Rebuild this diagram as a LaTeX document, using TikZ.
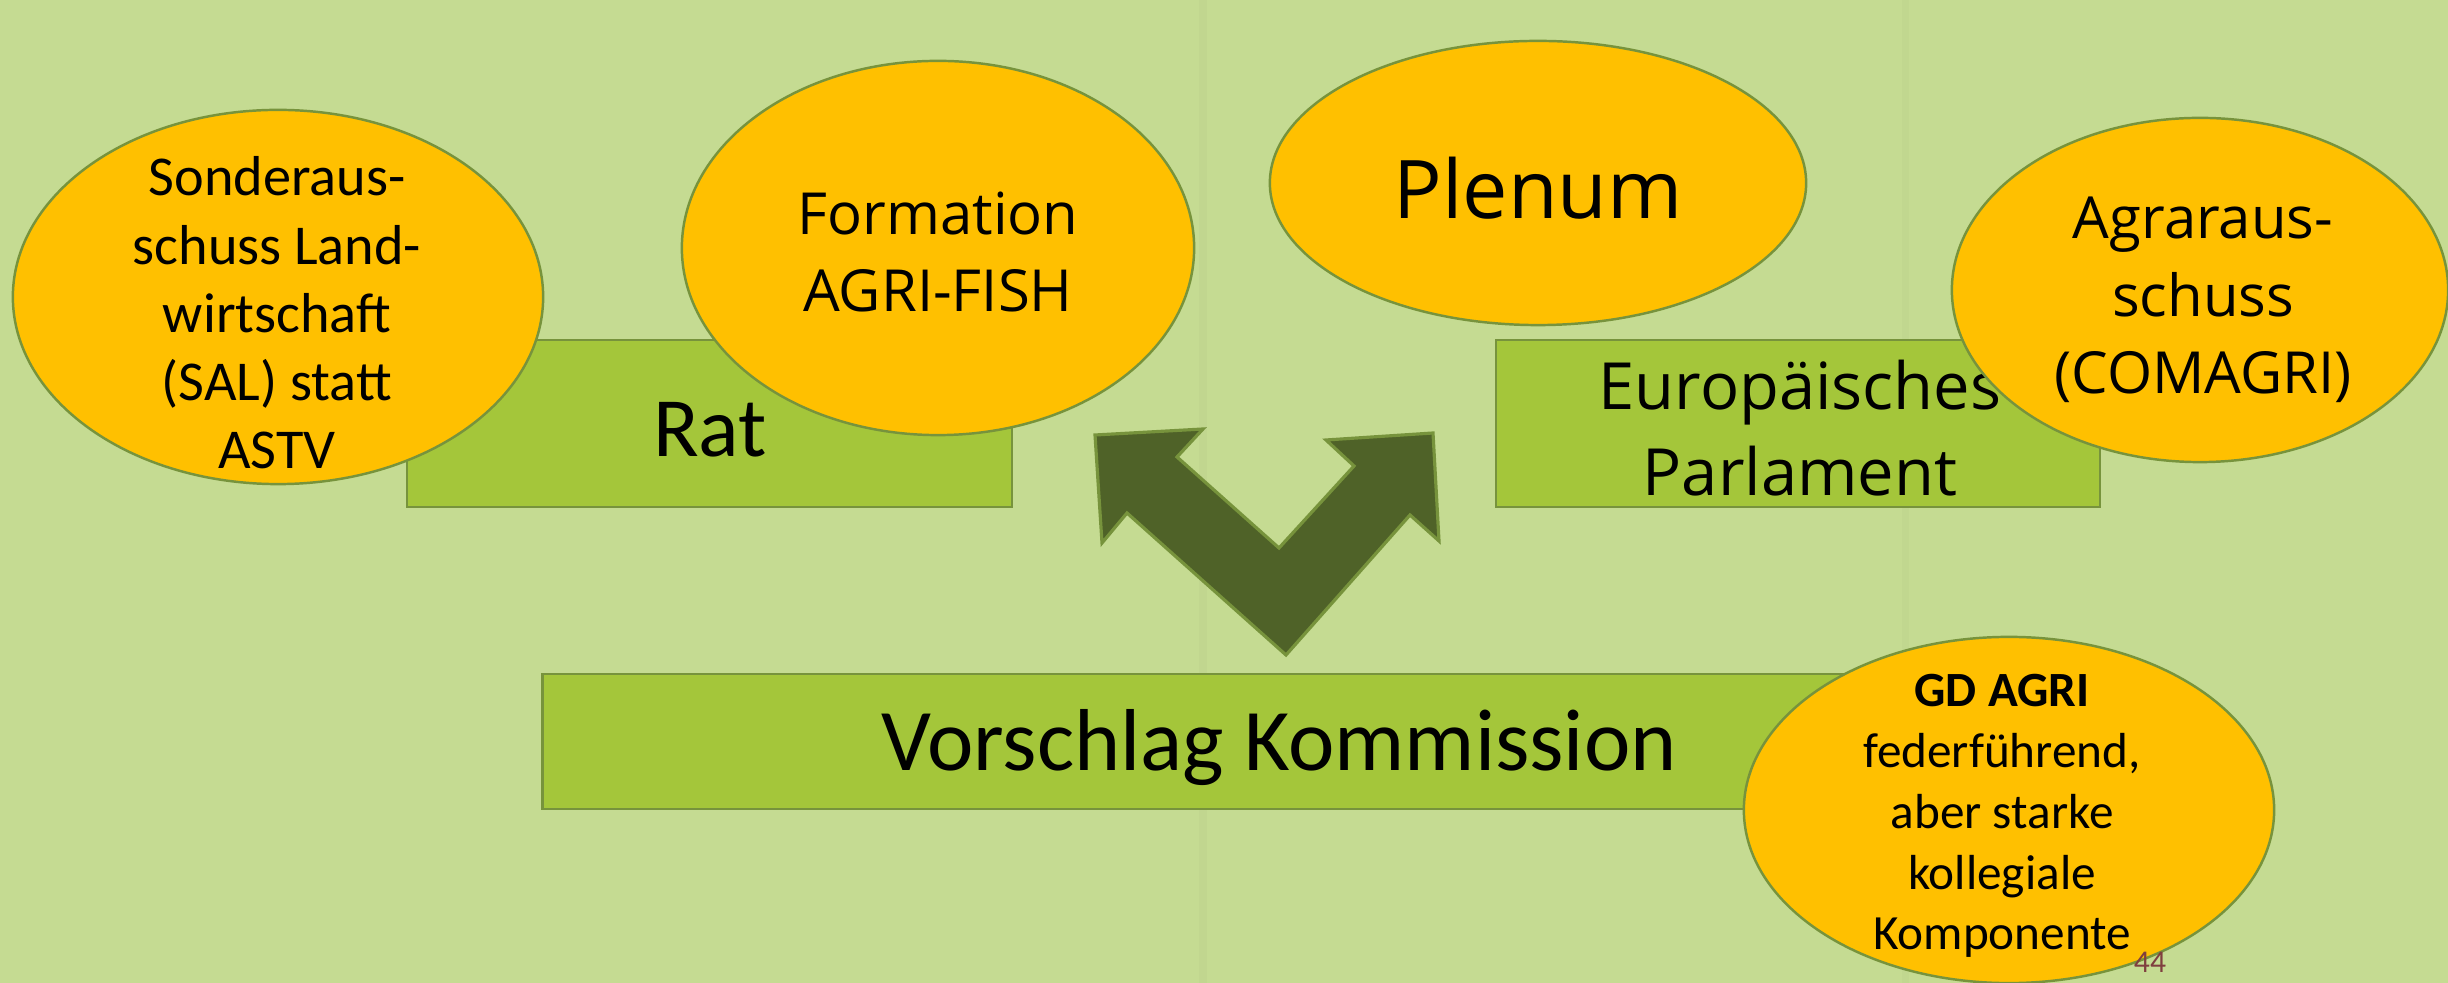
\documentclass[tikz,border=0pt]{standalone}
\usepackage{fontspec}
\setmainfont{Carlito}
\newfontfamily\segoe{Open Sans}
\usetikzlibrary{shapes.geometric}
\definecolor{bg}{HTML}{C5DB92}
\definecolor{boxfill}{HTML}{A4C63A}
\definecolor{edge}{HTML}{77933C}
\definecolor{oval}{HTML}{FFC000}
\definecolor{arrowfill}{HTML}{4F6228}
\definecolor{pagenum}{HTML}{7F3F3F}
\tikzset{
  greenbox/.style={draw=edge, fill=boxfill, line width=0.7pt, rectangle, inner sep=0pt},
  ovalbox/.style={draw=edge, fill=oval, line width=0.7pt, ellipse, inner sep=0pt},
  label/.style={align=center, inner sep=0pt, text=black},
}
\begin{document}
\begin{tikzpicture}[x=0.01cm, y=-0.01cm]
\fill[bg] (0,0) rectangle (2448,983);
\useasboundingbox (0,0) rectangle (2448,983);
% faint texture
\draw[black, opacity=0.02, line width=2pt] (1203,0) -- (1203,983);
\draw[black, opacity=0.015, line width=2pt] (1905,0) -- (1905,983);

% rectangles
\node[greenbox, minimum width=6.05cm, minimum height=1.67cm] (rat) at (709.5,423.5) {};
\node[label, font=\fontsize{24}{29}\selectfont] (rattxt) at (710,430) {Rat};
\node[greenbox, minimum width=6.04cm, minimum height=1.67cm] (ep) at (1798,423.5) {};
\node[label, font=\segoe\fontsize{18.5}{24.5}\selectfont] (eptxt) at (1800,428) {Europäisches\\Parlament};
\node[greenbox, minimum width=13.27cm, minimum height=1.35cm] (kom) at (1206.5,741.5) {};
\node[label, font=\fontsize{25}{30}\selectfont] (komtxt) at (1279,748) {Vorschlag Kommission};

% arrow
\draw[fill=arrowfill, draw=edge, line width=0.9pt, line join=miter]
  (1095,435) -- (1203,429) -- (1177,457) -- (1279,548) -- (1354,466) -- (1326,440)
  -- (1433,433) -- (1439,541) -- (1410,515) -- (1286,655) -- (1127,513) -- (1102,543) -- cycle;

% ellipses
\node[ovalbox, minimum width=5.30cm, minimum height=3.74cm] (sal) at (278,297) {};
\node[label, font=\fontsize{16}{19.4}\selectfont] (saltxt) at (277,313) {Sonderaus-\\schuss Land-\\wirtschaft\\(SAL) statt\\ASTV};
\node[ovalbox, minimum width=5.12cm, minimum height=3.74cm] (agrifish) at (938,248) {};
\node[label, font=\segoe\fontsize{16.5}{22}\selectfont] (agrifishtxt) at (938,252) {Formation\\AGRI-FISH};
\node[ovalbox, minimum width=5.36cm, minimum height=2.84cm] (plenum) at (1538,183) {};
\node[label, font=\segoe\fontsize{23}{28}\selectfont] (plenumtxt) at (1538,188) {Plenum};
\node[ovalbox, minimum width=4.96cm, minimum height=3.44cm] (comagri) at (2200,290) {};
\node[label, font=\segoe\fontsize{16.5}{22}\selectfont] (comagritxt) at (2203,300) {Agraraus-\\schuss\\(COMAGRI)};
\node[ovalbox, minimum width=5.30cm, minimum height=3.46cm] (gdagri) at (2009,810) {};
\node[label, font=\fontsize{14}{17.3}\selectfont] (gdagritxt) at (2002,816) {\textbf{GD AGRI}\\federführend,\\aber starke\\kollegiale\\Komponente};
\node[label, text=pagenum, font=\fontsize{9}{10}\selectfont] (pnum) at (2150,962) {44};
\end{tikzpicture}
\end{document}
